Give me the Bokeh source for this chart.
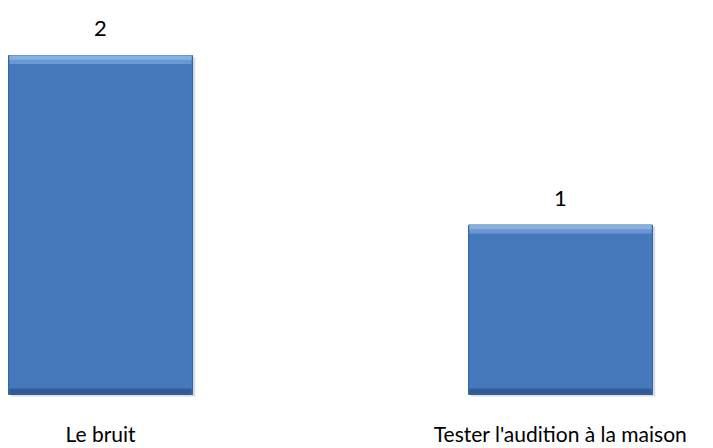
from bokeh.plotting import figure
from bokeh.models import ColumnDataSource, Range1d
from bokeh.core.properties import value
from bokeh.embed import file_html
from bokeh.resources import INLINE

categories = ["Le bruit", "Tester l'audition à la maison"]
counts = [2, 1]
value_labels = ["2", "1"]

xs = list(range(len(categories)))
bevel_bottom = [c - 0.05 for c in counts]
bevel_mid = [c - 0.025 for c in counts]
src = ColumnDataSource(dict(x=xs, top=counts, bevel=bevel_bottom, bmid=bevel_mid,
                            lab=value_labels, cat=categories, zero=[0] * len(xs),
                            edge=[0.035] * len(xs), catpos=[-0.232] * len(xs),
                            sx=[x + 0.006 for x in xs], stop=[c - 0.01 for c in counts],
                            sbot=[-0.012] * len(xs)))

p = figure(width=713, height=448, output_backend="svg", toolbar_location=None,
           x_range=Range1d(-0.2174, 1.3326), y_range=Range1d(-0.3186, 2.3245),
           min_border=0, outline_line_color=None)
p.axis.visible = False
p.grid.visible = False

# soft shadow
p.vbar(x="sx", top="stop", bottom="sbot", width=0.4, source=src,
       fill_color="#8f9aa8", fill_alpha=0.35, line_color=None)
# main bar
p.vbar(x="x", top="top", bottom="zero", width=0.4, source=src,
       fill_color="#4679bb", line_color="#3565a0", line_width=1)
# top bevel highlight (two steps for a softer gradient)
p.vbar(x="x", top="top", bottom="bevel", width=0.396, source=src,
       fill_color="#6b98d2", line_color=None)
p.vbar(x="x", top="top", bottom="bmid", width=0.396, source=src,
       fill_color="#86b0e0", line_color=None)
# bottom darker edge
p.vbar(x="x", top="edge", bottom="zero", width=0.396, source=src,
       fill_color="#2f5c94", line_color=None)

p.text(x="x", y="top", text="lab", source=src, text_align="center",
       text_baseline="middle", y_offset=-27, text_font=value("Lato"),
       text_font_size="22px", text_color="#000000")
p.text(x="x", y="catpos", text="cat", source=src, text_align="center",
       text_baseline="middle", text_font=value("Lato"),
       text_font_size="21px", text_color="#000000")

open("out.html", "w").write(file_html(p, INLINE))
